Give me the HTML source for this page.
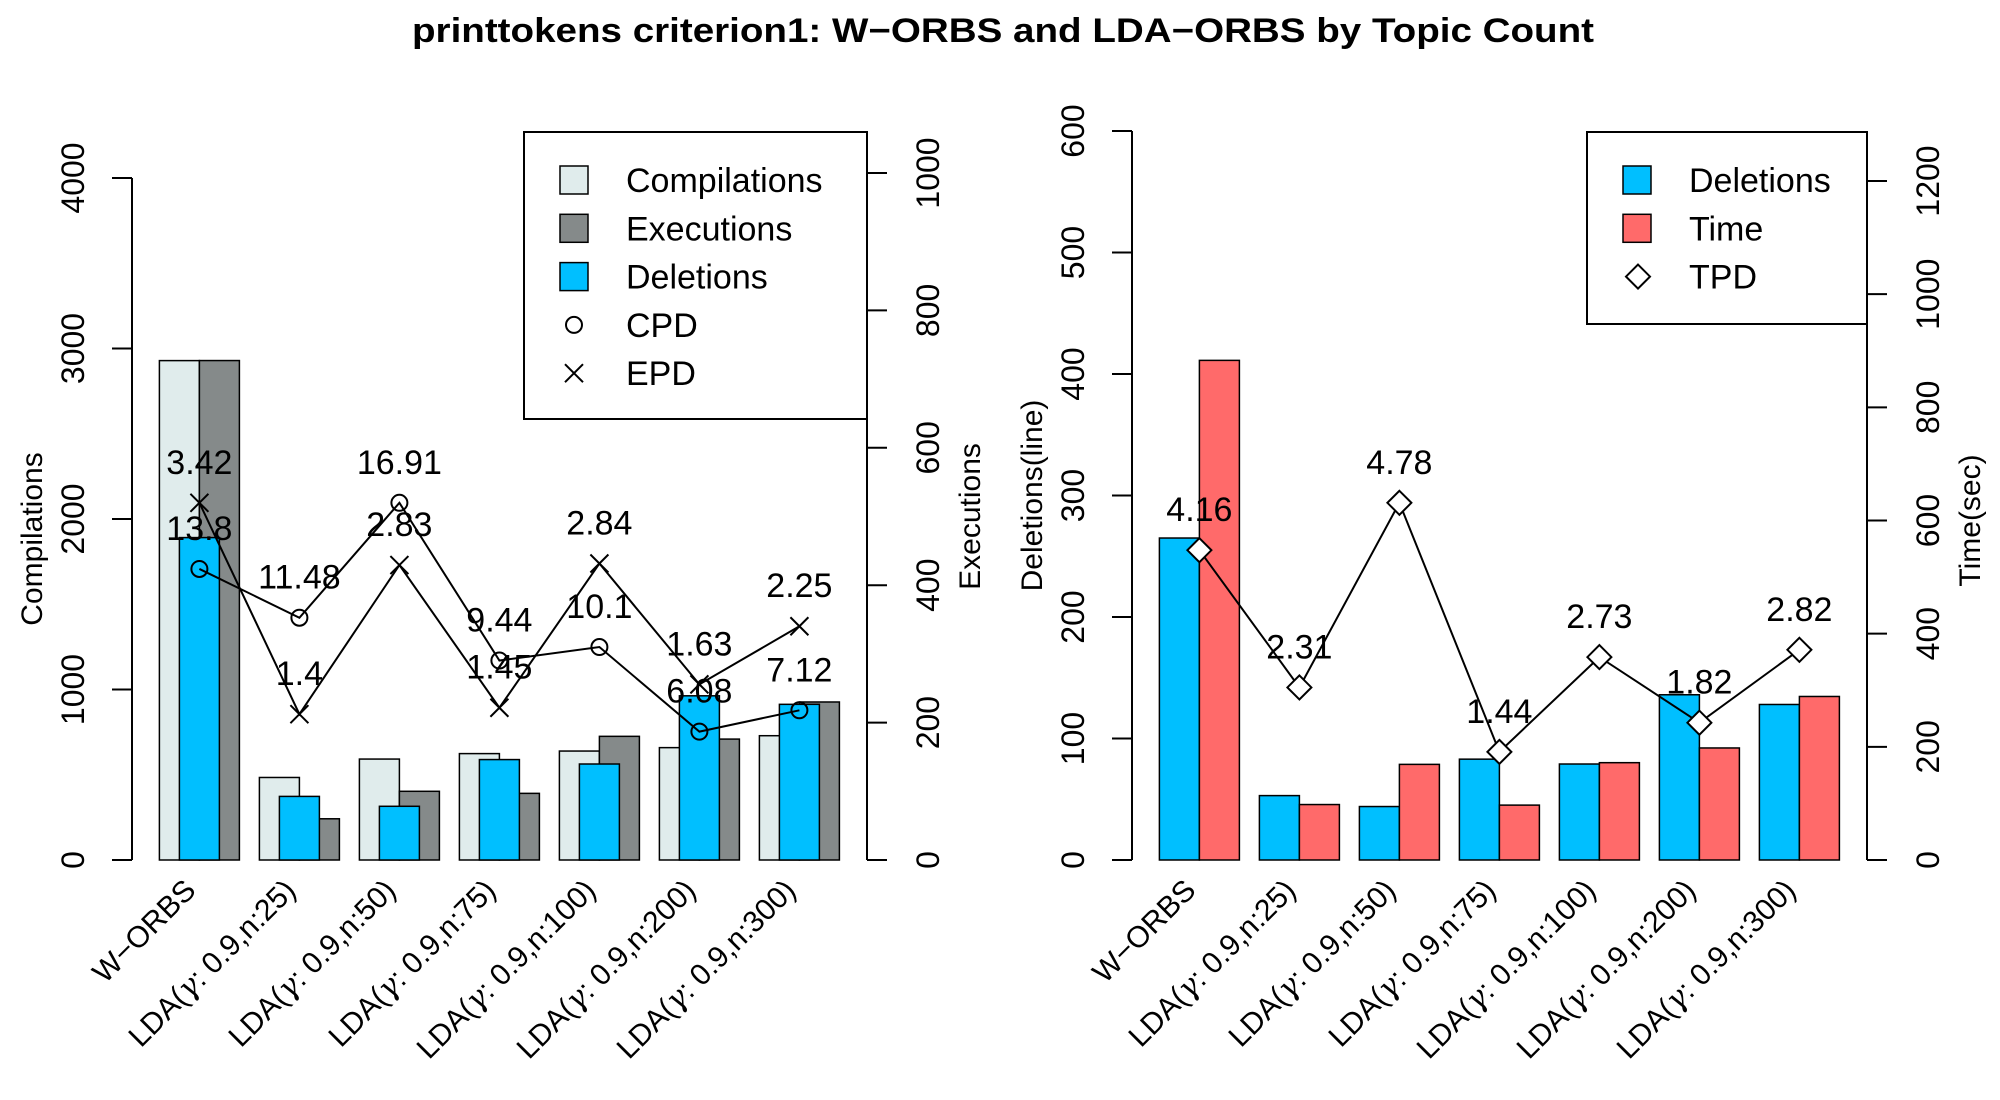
<!DOCTYPE html>
<html><head><meta charset="utf-8"><style>
html,body{margin:0;padding:0;background:#fff;}
svg{display:block;font-family:"Liberation Sans",sans-serif;}
</style></head><body>
<svg id="c" width="2000" height="1100" viewBox="0 0 2000 1100" xmlns="http://www.w3.org/2000/svg">
<text x="1003" y="42" text-anchor="middle" font-size="34" font-weight="bold" textLength="1182" lengthAdjust="spacingAndGlyphs">printtokens criterion1: W−ORBS and LDA−ORBS by Topic Count</text>
<g id="left"></g>
<g id="right"></g>
</svg>
<script>
const categories = ["W−ORBS","25","50","75","100","200","300"];
const compilations = [2929,484,592,624,639,659,729];
const executions = [727,60,100,97,180,176,230];
const deletionsL = [1891,373,315,589,563,963,913];
const cpdY = [1707,1421,2095,1170,1249,753,878];
const cpdLabels = ["13.8","11.48","16.91","9.44","10.1","6.08","7.12"];
const epdY = [2095,855,1730,893,1739,1030,1371];
const epdLabels = ["3.42","1.4","2.83","1.45","2.84","1.63","2.25"];
const compTicks = [0,1000,2000,3000,4000];
const execTicks = [0,200,400,600,800,1000];

const deletionsR = [265,53,44,83,79,136,128];
const timeVals = [883,98,169,97,172,198,289];
const tpdY = [255,142,294,89,167,113,173];
const tpdLabels = ["4.16","2.31","4.78","1.44","2.73","1.82","2.82"];
const delTicks = [0,100,200,300,400,500,600];
const timeTicks = [0,200,400,600,800,1000,1200];

const NS="http://www.w3.org/2000/svg";
function mk(parent,tag,attrs,text){const e=document.createElementNS(NS,tag);for(const k in attrs)e.setAttribute(k,attrs[k]);if(text!==undefined)e.textContent=text;parent.appendChild(e);return e;}

const Y0=860;
function drawPanel(g, ox, leftMax, leftPx, rightMax, rightPx, leftTicks, rightTicks, leftTitle, rightTitle){
  const yl=v=>Y0-v/leftMax*leftPx;
  const yr=v=>Y0-v/rightMax*rightPx;
  const axL=ox+132, axR=ox+867;
  // left axis
  let a=mk(g,'line',{x1:axL,x2:axL,y1:yl(leftTicks[0]),y2:yl(leftTicks[leftTicks.length-1]),stroke:'#000','stroke-width':2});
  
  
  leftTicks.forEach(t=>{
    const tk=mk(g,'line',{x1:axL-20,x2:axL,y1:yl(t),y2:yl(t),stroke:'#000','stroke-width':2});
    
    
    const tl=mk(g,'text',{x:0,y:0,'font-size':32,'text-anchor':'middle',transform:`translate(${axL-48},${yl(t)}) rotate(-90)`},String(t));
    
    
  });
  let at=mk(g,'text',{x:0,y:0,'font-size':30,'text-anchor':'middle',transform:`translate(${ox+42},${yl(leftTicks[leftTicks.length-1])/2+Y0/2+ (leftTitle==='Compilations'?20:0)}) rotate(-90)`},leftTitle);
  
  
  // right axis
  a=mk(g,'line',{x1:axR,x2:axR,y1:yr(rightTicks[0]),y2:yr(rightTicks[rightTicks.length-1]),stroke:'#000','stroke-width':2});
  
  
  rightTicks.forEach(t=>{
    const tk=mk(g,'line',{x1:axR,x2:axR+20,y1:yr(t),y2:yr(t),stroke:'#000','stroke-width':2});
    
    
    const tl=mk(g,'text',{x:0,y:0,'font-size':32,'text-anchor':'middle',transform:`translate(${axR+72},${yr(t)}) rotate(-90)`},String(t));
    
    
  });
  at=mk(g,'text',{x:0,y:0,'font-size':30,'text-anchor':'middle',transform:`translate(${ox+980},${(Y0+yr(rightTicks[rightTicks.length-1]))/2}) rotate(-90)`},rightTitle);
  
  
  // x labels
  categories.forEach((c,i)=>{
    const cx=ox+199.4+100*i;
    const t=mk(g,'text',{x:0,y:0,'font-size':30,'text-anchor':'end',transform:`translate(${cx-2},${892}) rotate(-45)`});
    
    
    if(i===0){t.textContent=c;}
    else{
      t.appendChild(document.createTextNode('LDA('));
      const s=mk(t,'tspan',{'font-style':'italic','font-family':'"DejaVu Serif",serif'},'γ');
      t.appendChild(document.createTextNode(': 0.9,n:'+c+')'));
    }
  });
  return {yl,yr};
}

function pointLine(g, xs, ys, name){
  const p=mk(g,'polyline',{points:xs.map((x,i)=>x+','+ys[i]).join(' '),fill:'none',stroke:'#000','stroke-width':2});
  
  
}

// LEFT
(function(){
  const g=document.getElementById('left');
  const {yl,yr}=drawPanel(g,0,4000,682,1000,687,compTicks,execTicks,'Compilations','Executions');
  categories.forEach((c,i)=>{
    const x=159.4+100*i;
    let r=mk(g,'rect',{x:x,y:yl(compilations[i]),width:40,height:Y0-yl(compilations[i]),fill:'#e0ecec',stroke:'#000','stroke-width':1.5});
    
    
    r=mk(g,'rect',{x:x+40,y:yr(executions[i]),width:40,height:Y0-yr(executions[i]),fill:'#858a8a',stroke:'#000','stroke-width':1.5});
    
    
    r=mk(g,'rect',{x:x+20,y:yl(deletionsL[i]),width:40,height:Y0-yl(deletionsL[i]),fill:'#00bfff',stroke:'#000','stroke-width':1.5});
    
    
  });
  const xs=categories.map((c,i)=>199.4+100*i);
  pointLine(g,xs,cpdY.map(yl),'cpd-line');
  pointLine(g,xs,epdY.map(yl),'epd-line');
  xs.forEach((x,i)=>{
    const cy=yl(cpdY[i]);
    const c=mk(g,'circle',{cx:x,cy:cy,r:8,fill:'none',stroke:'#000','stroke-width':2});
    
    
    const ey=yl(epdY[i]);
    const m=mk(g,'path',{d:`M${x-9},${ey-9}L${x+9},${ey+9}M${x-9},${ey+9}L${x+9},${ey-9}`,stroke:'#000','stroke-width':2});
    
    
    let t=mk(g,'text',{x:x,y:cy-29,'font-size':34,'text-anchor':'middle'},cpdLabels[i]);
    
    
    t=mk(g,'text',{x:x,y:ey-29,'font-size':34,'text-anchor':'middle'},epdLabels[i]);
    
    
  });
  // legend
  const lg=mk(g,'g',{});
  
  
  mk(lg,'rect',{x:524,y:132,width:343,height:287,fill:'#fff',stroke:'#000','stroke-width':2});
  const names=['Compilations','Executions','Deletions','CPD','EPD'];
  const fills=['#e0ecec','#858a8a','#00bfff'];
  names.forEach((n,i)=>{
    const y=180+48.3*i;
    const e=mk(lg,'g',{});
    
    
    if(i<3) mk(e,'rect',{x:560,y:y-14,width:28,height:28,fill:fills[i],stroke:'#000','stroke-width':1.5});
    else if(i===3) mk(e,'circle',{cx:574,cy:y,r:8,fill:'none',stroke:'#000','stroke-width':2});
    else mk(e,'path',{d:`M565,${y-9}L583,${y+9}M565,${y+9}L583,${y-9}`,stroke:'#000','stroke-width':2});
    mk(e,'text',{x:626,y:y+12,'font-size':34},n);
  });
})();

// RIGHT
(function(){
  const g=document.getElementById('right');
  const ox=1000;
  const {yl,yr}=drawPanel(g,ox,600,729,1200,679,delTicks,timeTicks,'Deletions(line)','Time(sec)');
  categories.forEach((c,i)=>{
    const x=ox+159.4+100*i;
    let r=mk(g,'rect',{x:x,y:yl(deletionsR[i]),width:40,height:Y0-yl(deletionsR[i]),fill:'#00bfff',stroke:'#000','stroke-width':1.5});
    
    
    r=mk(g,'rect',{x:x+40,y:yr(timeVals[i]),width:40,height:Y0-yr(timeVals[i]),fill:'#ff6a6a',stroke:'#000','stroke-width':1.5});
    
    
  });
  const xs=categories.map((c,i)=>ox+199.4+100*i);
  pointLine(g,xs,tpdY.map(yl),'tpd-line');
  xs.forEach((x,i)=>{
    const y=yl(tpdY[i]);
    const d=mk(g,'path',{d:`M${x},${y-12}L${x+12},${y}L${x},${y+12}L${x-12},${y}Z`,fill:'#fff',stroke:'#000','stroke-width':2});
    
    
    const t=mk(g,'text',{x:x,y:y-29,'font-size':34,'text-anchor':'middle'},tpdLabels[i]);
    
    
  });
  const lg=mk(g,'g',{});
  
  
  mk(lg,'rect',{x:1587,y:132,width:280,height:192,fill:'#fff',stroke:'#000','stroke-width':2});
  const names=['Deletions','Time','TPD'];
  const fills=['#00bfff','#ff6a6a'];
  names.forEach((n,i)=>{
    const y=180+48.3*i;
    const e=mk(lg,'g',{});
    
    
    if(i<2) mk(e,'rect',{x:1623,y:y-14,width:28,height:28,fill:fills[i],stroke:'#000','stroke-width':1.5});
    else mk(e,'path',{d:`M1638,${y-12}L1650,${y}L1638,${y+12}L1626,${y}Z`,fill:'#fff',stroke:'#000','stroke-width':2});
    mk(e,'text',{x:1689,y:y+12,'font-size':34},n);
  });
})();
</script>
</body></html>
